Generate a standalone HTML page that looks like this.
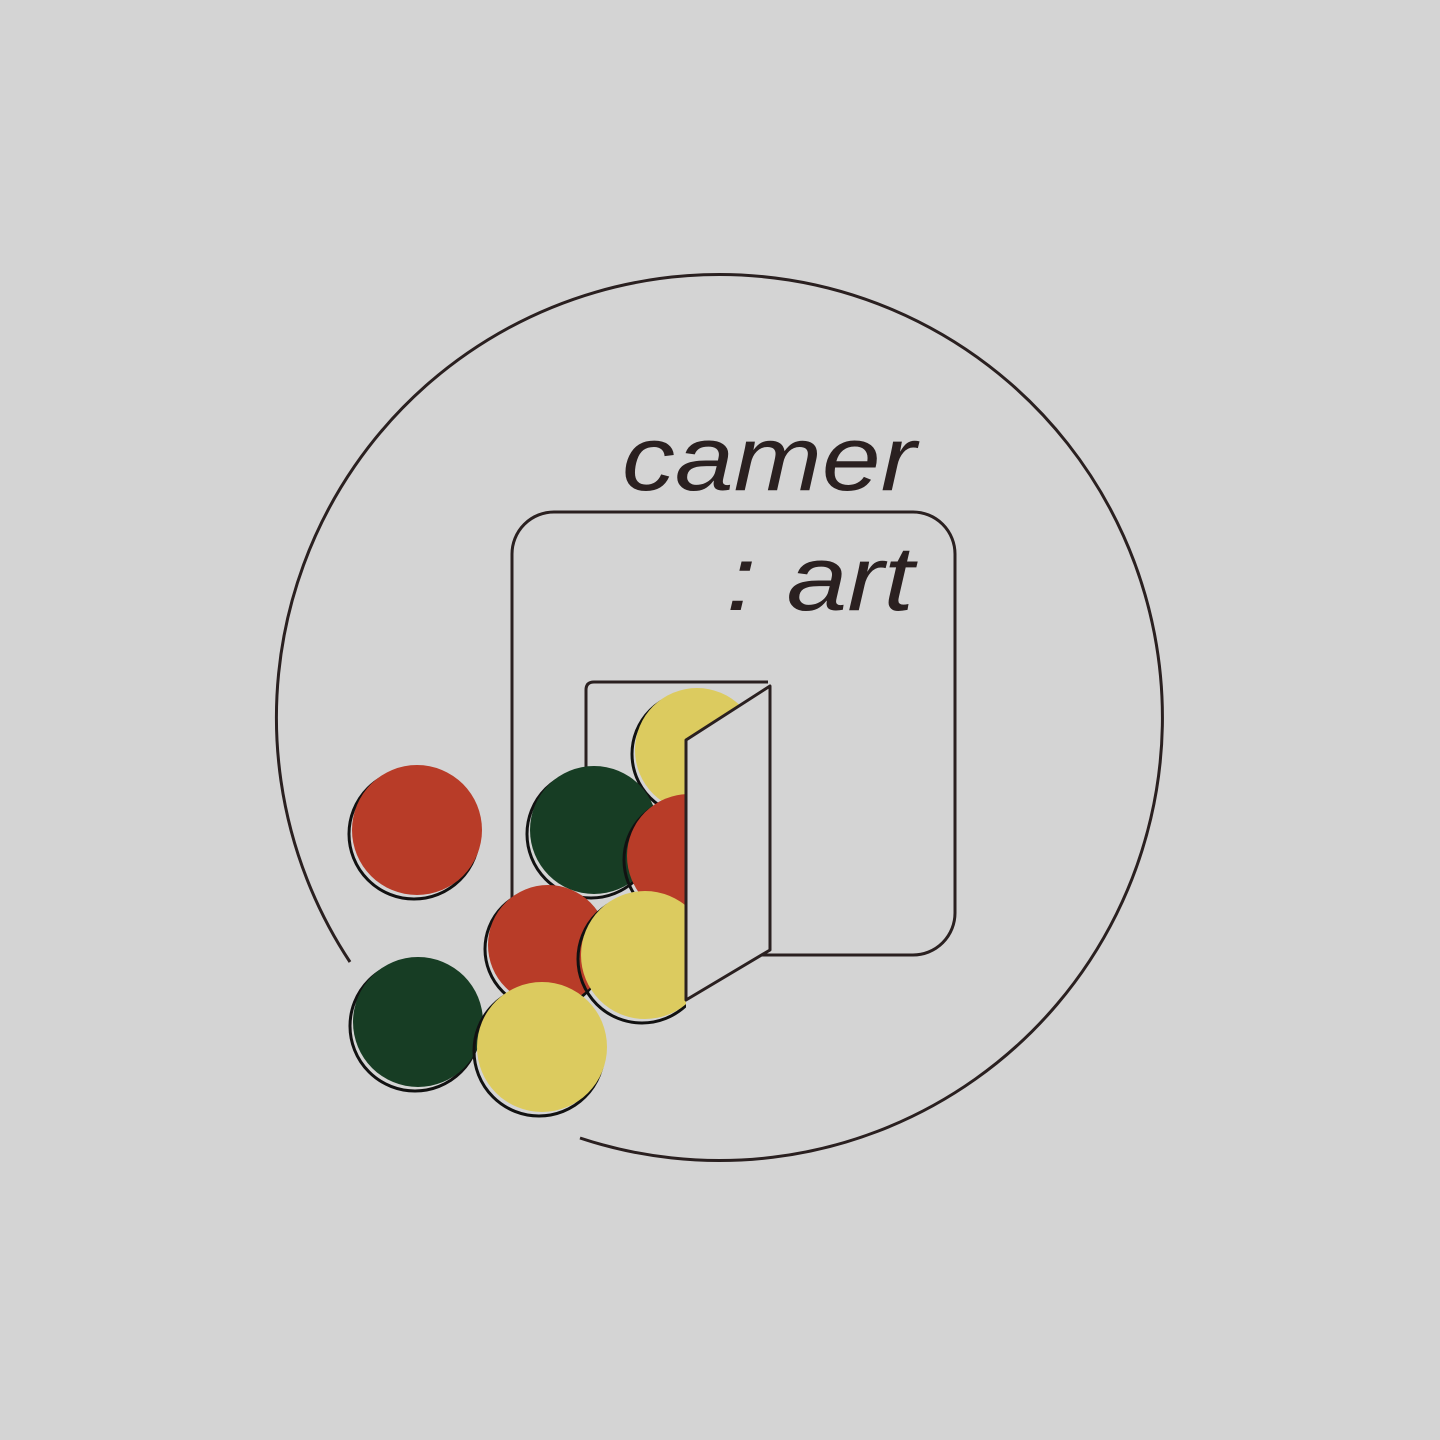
<!DOCTYPE html>
<html><head><meta charset="utf-8"><style>
html,body{margin:0;padding:0;background:#d4d4d4;}
svg{display:block;}
</style></head><body>
<svg width="1440" height="1440" viewBox="0 0 1440 1440">
<rect x="0" y="0" width="1440" height="1440" fill="#d4d4d4"/>
<path d="M350,962 A443,443 0 1 1 580,1138" fill="none" stroke="#2a2020" stroke-width="3"/>
<rect x="512" y="512" width="443" height="443" rx="42" fill="none" stroke="#2a2020" stroke-width="3"/>
<text x="622" y="490" textLength="294" lengthAdjust="spacingAndGlyphs" font-family="Liberation Sans, sans-serif" font-style="italic" font-size="92" fill="#2a2020">camer</text>
<text x="726" y="610" textLength="188" lengthAdjust="spacingAndGlyphs" font-family="Liberation Sans, sans-serif" font-style="italic" font-size="92" fill="#2a2020">: art</text>
<path d="M586,770 L586,690 Q586,682 594,682 L768,682" fill="none" stroke="#2a2020" stroke-width="3"/>
<defs><clipPath id="door"><polygon points="0,0 770,0 770,686 686,740 686,1440 0,1440"/></clipPath></defs>
<g>
<g clip-path="url(#door)">
<circle cx="694" cy="754" r="62" fill="none" stroke="#111" stroke-width="3"/>
<circle cx="697" cy="750" r="62" fill="#dccb5f"/>
</g>
<circle cx="591" cy="834" r="64" fill="none" stroke="#111" stroke-width="3"/>
<circle cx="594" cy="830" r="64" fill="#173d24"/>
<g clip-path="url(#door)">
<circle cx="686" cy="860" r="62" fill="none" stroke="#111" stroke-width="3"/>
<circle cx="689" cy="856" r="62" fill="#b83c28"/>
</g>
<circle cx="414" cy="834" r="65" fill="none" stroke="#111" stroke-width="3"/>
<circle cx="417" cy="830" r="65" fill="#b83c28"/>
<circle cx="545" cy="949" r="60" fill="none" stroke="#111" stroke-width="3"/>
<circle cx="548" cy="945" r="60" fill="#b83c28"/>
<g clip-path="url(#door)">
<circle cx="642" cy="959" r="64" fill="none" stroke="#111" stroke-width="3"/>
<circle cx="645" cy="955" r="64" fill="#dccb5f"/>
</g>
<circle cx="415" cy="1026" r="65" fill="none" stroke="#111" stroke-width="3"/>
<circle cx="418" cy="1022" r="65" fill="#173d24"/>
<circle cx="539" cy="1051" r="65" fill="none" stroke="#111" stroke-width="3"/>
<circle cx="542" cy="1047" r="65" fill="#dccb5f"/>
</g>
<polygon points="686,740 770,686 770,950 686,1000" fill="#d4d4d4" stroke="#2a2020" stroke-width="3" stroke-linejoin="round"/>
</svg>
</body></html>
